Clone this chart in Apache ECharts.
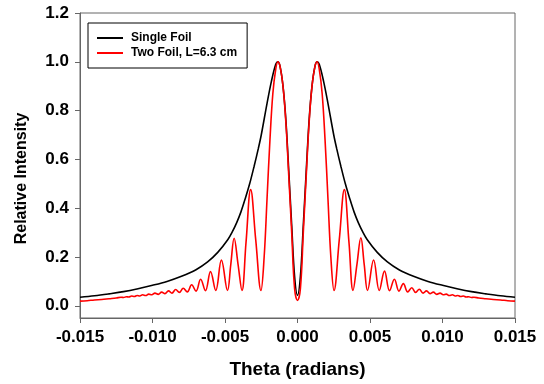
<!DOCTYPE html>
<html>
<head>
<meta charset="utf-8">
<script src="https://cdn.jsdelivr.net/npm/echarts@6/dist/echarts.min.js"></script>
<style>html,body{margin:0;padding:0;background:#fff}#c{width:544px;height:384px}</style>
</head>
<body>
<div id="c"></div>
<script>
var seriesNames = ['Single Foil', 'Two Foil, L=6.3 cm'];
var xTicks = [-0.015, -0.010, -0.005, 0.000, 0.005, 0.010, 0.015];
var yTicks = [0.0, 0.2, 0.4, 0.6, 0.8, 1.0, 1.2];

var singleTheta = [-0.015, -0.014, -0.013, -0.012, -0.011, -0.010, -0.009, -0.008, -0.007, -0.0062, -0.0055, -0.0048, -0.0045, -0.0042, -0.0039, -0.0036, -0.0033, -0.0030, -0.0027, -0.0025, -0.0021, -0.0018, -0.0015, -0.00135, -0.0012, -0.0010, -0.0008, -0.0006, -0.0004, -0.0002,
  0,
  0.0002, 0.0004, 0.0006, 0.0008, 0.0010, 0.0012, 0.00135, 0.0015, 0.0018, 0.0021, 0.0025, 0.0027, 0.0030, 0.0033, 0.0036, 0.0039, 0.0042, 0.0045, 0.0048, 0.0055, 0.0062, 0.007, 0.008, 0.009, 0.010, 0.011, 0.012, 0.013, 0.014, 0.015];
var singleValue = [0.035, 0.041, 0.049, 0.058, 0.070, 0.084, 0.100, 0.121, 0.148, 0.180, 0.219, 0.272, 0.303, 0.340, 0.385, 0.440, 0.500, 0.570, 0.645, 0.700, 0.830, 0.920, 0.990, 1.0, 0.98, 0.90, 0.76, 0.55, 0.33, 0.12,
  0.043,
  0.12, 0.33, 0.55, 0.76, 0.90, 0.98, 1.0, 0.990, 0.920, 0.830, 0.700, 0.645, 0.570, 0.500, 0.440, 0.385, 0.340, 0.303, 0.272, 0.219, 0.180, 0.148, 0.121, 0.100, 0.084, 0.070, 0.058, 0.049, 0.041, 0.035];

var twoTheta = [-0.015, -0.0145, -0.014, -0.0135, -0.013, -0.0125, -0.01217, -0.01199, -0.01181, -0.01163, -0.01144, -0.01125, -0.01106, -0.01088, -0.01068, -0.01047, -0.01026, -0.01005, -0.00983, -0.0096, -0.00937, -0.00914, -0.0089, -0.00866, -0.0084, -0.00815, -0.00788, -0.0076, -0.0073, -0.007, -0.00668, -0.00635, -0.006, -0.00564, -0.00525, -0.00483, -0.0046, -0.00437, -0.0041, -0.00383, -0.00355, -0.00323, -0.00288, -0.00252, -0.0023, -0.0021, -0.0019, -0.0017, -0.0015, -0.00135, -0.0012, -0.001, -0.0008, -0.0006, -0.0004, -0.0002,
  0,
  0.0002, 0.0004, 0.0006, 0.0008, 0.001, 0.0012, 0.00135, 0.0015, 0.0017, 0.0019, 0.0021, 0.0023, 0.00252, 0.00288, 0.00323, 0.00355, 0.00383, 0.0041, 0.00437, 0.0046, 0.00483, 0.00525, 0.00564, 0.006, 0.00635, 0.00668, 0.007, 0.0073, 0.0076, 0.00788, 0.00815, 0.0084, 0.00866, 0.0089, 0.00914, 0.00937, 0.0096, 0.00983, 0.01005, 0.01026, 0.01047, 0.01068, 0.01088, 0.01106, 0.01125, 0.01144, 0.01163, 0.01181, 0.01199, 0.01217, 0.0125, 0.013, 0.0135, 0.014, 0.0145, 0.015];
var twoValue = [0.019, 0.021, 0.024, 0.026, 0.029, 0.032, 0.035, 0.034, 0.037, 0.036, 0.040, 0.038, 0.042, 0.040, 0.045, 0.042, 0.048, 0.045, 0.052, 0.047, 0.056, 0.050, 0.061, 0.052, 0.067, 0.055, 0.072, 0.057, 0.086, 0.060, 0.109, 0.062, 0.140, 0.063, 0.187, 0.063, 0.17, 0.277, 0.17, 0.063, 0.26, 0.476, 0.27, 0.063, 0.20, 0.44, 0.68, 0.87, 0.97, 1.0, 0.98, 0.90, 0.75, 0.53, 0.30, 0.07,
  0.022,
  0.07, 0.30, 0.53, 0.75, 0.90, 0.98, 1.0, 0.97, 0.87, 0.68, 0.44, 0.20, 0.063, 0.27, 0.476, 0.26, 0.063, 0.17, 0.279, 0.17, 0.063, 0.188, 0.063, 0.142, 0.062, 0.109, 0.060, 0.091, 0.057, 0.074, 0.055, 0.068, 0.052, 0.061, 0.050, 0.056, 0.047, 0.052, 0.045, 0.048, 0.042, 0.045, 0.040, 0.042, 0.038, 0.040, 0.036, 0.037, 0.034, 0.035, 0.032, 0.029, 0.026, 0.024, 0.021, 0.019];

function pairs(xs, ys) { return xs.map(function (x, i) { return [x, ys[i]]; }); }

var FONT = '"Liberation Sans", Arial, sans-serif';
var chart = echarts.init(document.getElementById('c'), null, { renderer: 'canvas' });
chart.setOption({
  animation: false,
  backgroundColor: '#ffffff',
  grid: { left: 80, right: 29, top: 13, bottom: 66, show: true, borderColor: '#666', borderWidth: 1, backgroundColor: 'transparent' },
  legend: {
    data: [{ name: seriesNames[0], icon: 'rect' }, { name: seriesNames[1], icon: 'rect' }],
    orient: 'vertical',
    left: 88, top: 23,
    borderColor: '#000', borderWidth: 1,
    padding: [8, 10, 8, 9],
    itemWidth: 26, itemHeight: 2, itemGap: 1,
    textStyle: { fontFamily: FONT, fontSize: 12, fontWeight: 'bold', color: '#000', padding: [0, 0, 0, 3], lineHeight: 14 }
  },
  xAxis: {
    type: 'value', min: -0.015, max: 0.015, interval: 0.005,
    name: 'Theta (radians)', nameLocation: 'middle', nameGap: 42,
    nameTextStyle: { fontFamily: FONT, fontSize: 19, fontWeight: 'bold', color: '#000' },
    axisLine: { show: true, onZero: false, lineStyle: { color: '#666', width: 1 } },
    axisTick: { show: true, inside: false, length: 5, lineStyle: { color: '#666' }, customValues: xTicks },
    axisLabel: { fontFamily: FONT, fontSize: 17, fontWeight: 'bold', color: '#000', margin: 11, customValues: xTicks,
      formatter: function (v) { return Math.abs(v) < 1e-9 ? '0.000' : v.toFixed(3); } },
    splitLine: { show: false }
  },
  yAxis: {
    type: 'value', min: -0.05, max: 1.2,
    name: 'Relative Intensity', nameLocation: 'middle', nameGap: 50, nameRotate: 90,
    nameTextStyle: { fontFamily: FONT, fontSize: 16, fontWeight: 'bold', color: '#000', padding: [0, 26, 0, 0] },
    axisLine: { show: true, onZero: false, lineStyle: { color: '#666', width: 1 } },
    axisTick: { show: true, inside: false, length: 5, lineStyle: { color: '#666' }, customValues: yTicks },
    axisLabel: { fontFamily: FONT, fontSize: 17, fontWeight: 'bold', color: '#000', margin: 11, customValues: yTicks,
      formatter: function (v) { return v.toFixed(1); } },
    splitLine: { show: false }
  },
  series: [
    { name: seriesNames[0], type: 'line', data: pairs(singleTheta, singleValue), symbol: 'none', showSymbol: false, smooth: 0.35,
      lineStyle: { color: '#000', width: 1.6 }, itemStyle: { color: '#000' } },
    { name: seriesNames[1], type: 'line', data: pairs(twoTheta, twoValue), symbol: 'none', showSymbol: false, smooth: 0.4,
      lineStyle: { color: '#ff0000', width: 1.6 }, itemStyle: { color: '#ff0000' } }
  ]
});
</script>
</body>
</html>
